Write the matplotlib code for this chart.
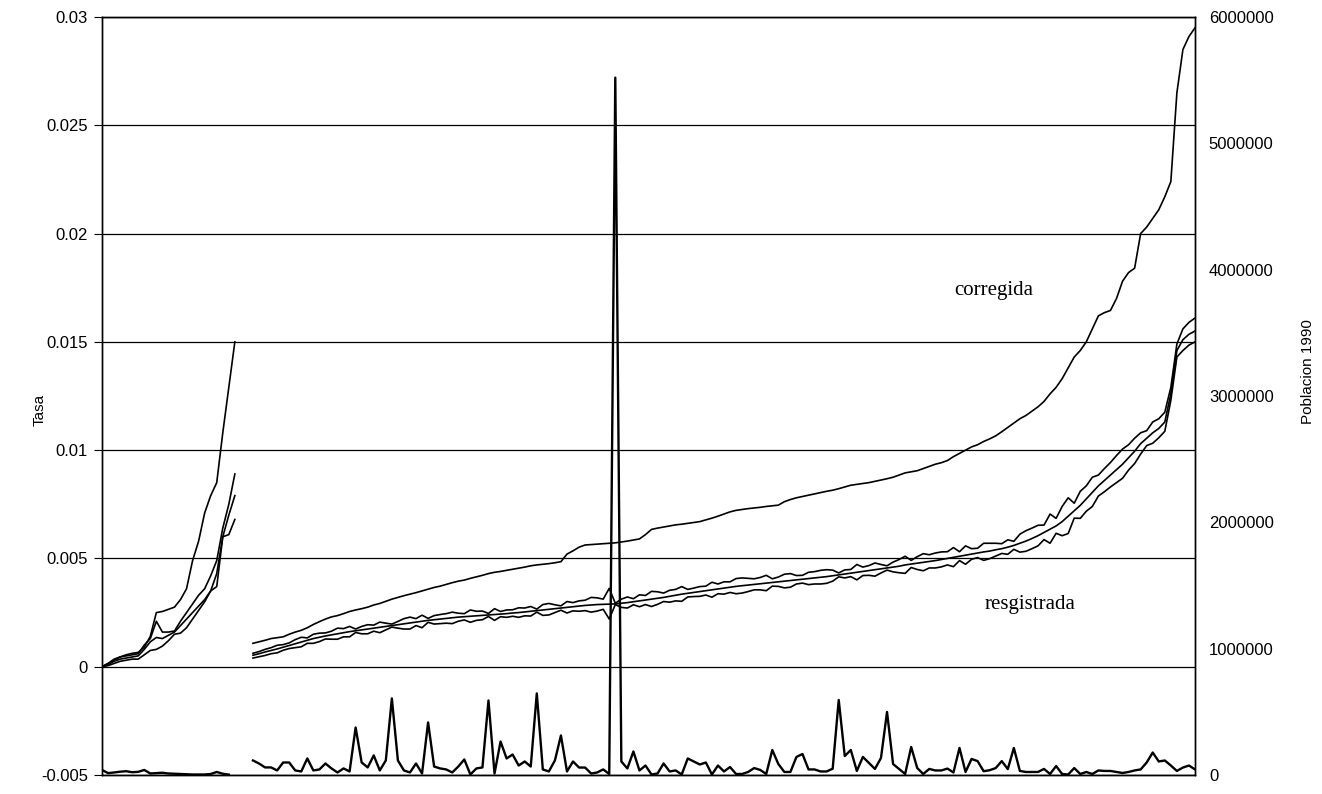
import numpy as np
import matplotlib.pyplot as plt

# Posiciones en el eje x: grupo 1 = 0..22, hueco, grupo 2 = 25..181
x1 = np.arange(0, 23)
x2 = np.arange(25, 182)
xp1 = np.arange(0, 22)  # poblacion grupo 1

# Tasas (por mil) - grupo 1
corregida_1 = [0.0, 0.15, 0.30, 0.45, 0.55, 0.62, 0.66, 0.90, 1.40, 2.50, 2.55, 2.65,
               2.75, 3.10, 3.60, 4.90, 5.80, 7.10, 7.90, 8.50, 10.80, 12.90, 15.00]
sup_1 = [0.0, 0.15, 0.35, 0.45, 0.50, 0.55, 0.60, 1.00, 1.30, 2.10, 1.60, 1.60,
         1.65, 2.10, 2.50, 2.90, 3.30, 3.60, 4.20, 4.90, 6.40, 7.50, 8.90]
registrada_1 = [0.0, 0.10, 0.25, 0.35, 0.40, 0.45, 0.50, 0.80, 1.15, 1.35, 1.30, 1.45,
                1.60, 1.90, 2.20, 2.50, 2.80, 3.10, 3.50, 4.30, 6.00, 7.00, 7.90]
inf_1 = [0.0, 0.05, 0.15, 0.25, 0.30, 0.35, 0.35, 0.55, 0.75, 0.80, 0.95, 1.20,
         1.50, 1.55, 1.80, 2.20, 2.60, 3.00, 3.50, 3.70, 6.00, 6.10, 6.80]
# Poblacion (miles) - grupo 1
pob_1 = [40, 15, 20, 26, 30, 22, 25, 40, 12, 15, 18, 12, 10, 8, 6, 4, 4, 4, 8, 24, 10, 3]

# Tasas (por mil) - grupo 2
corregida_2 = [
    1.08, 1.15, 1.22, 1.30, 1.34, 1.38, 1.50, 1.60, 1.68, 1.80,
    1.95, 2.08, 2.20, 2.30, 2.36, 2.45, 2.55, 2.62, 2.68, 2.75,
    2.85, 2.92, 3.02, 3.12, 3.20, 3.28, 3.35, 3.42, 3.50, 3.58,
    3.66, 3.72, 3.80, 3.88, 3.95, 4.00, 4.08, 4.15, 4.22, 4.30,
    4.36, 4.40, 4.45, 4.50, 4.55, 4.60, 4.66, 4.70, 4.73, 4.76,
    4.80, 4.85, 5.20, 5.35, 5.52, 5.62, 5.64, 5.66, 5.68, 5.70,
    5.72, 5.76, 5.80, 5.85, 5.90, 6.10, 6.34, 6.40, 6.45, 6.50,
    6.55, 6.58, 6.62, 6.66, 6.70, 6.78, 6.86, 6.95, 7.05, 7.15,
    7.22, 7.26, 7.30, 7.33, 7.36, 7.40, 7.43, 7.46, 7.62, 7.72,
    7.80, 7.86, 7.92, 7.98, 8.04, 8.10, 8.15, 8.22, 8.30, 8.38,
    8.42, 8.46, 8.50, 8.56, 8.62, 8.68, 8.75, 8.85, 8.95, 9.00,
    9.05, 9.15, 9.25, 9.35, 9.42, 9.52, 9.70, 9.85, 10.00, 10.15,
    10.25, 10.40, 10.52, 10.66, 10.85, 11.05, 11.25, 11.45, 11.60, 11.80,
    12.00, 12.25, 12.60, 12.90, 13.30, 13.80, 14.30, 14.60, 15.00, 15.60,
    16.20, 16.35, 16.45, 17.00, 17.80, 18.20, 18.40, 20.00, 20.30, 20.70,
    21.10, 21.70, 22.40, 26.50, 28.50, 29.10, 29.50]
registrada_2 = [
    0.53, 0.60, 0.68, 0.75, 0.82, 0.90, 0.98, 1.06, 1.14, 1.22,
    1.30, 1.36, 1.42, 1.47, 1.52, 1.57, 1.62, 1.66, 1.70, 1.74,
    1.78, 1.82, 1.86, 1.90, 1.94, 1.98, 2.02, 2.06, 2.10, 2.14,
    2.17, 2.20, 2.23, 2.26, 2.29, 2.31, 2.33, 2.35, 2.37, 2.39,
    2.41, 2.43, 2.45, 2.48, 2.50, 2.53, 2.56, 2.59, 2.62, 2.65,
    2.68, 2.71, 2.74, 2.77, 2.80, 2.83, 2.85, 2.87, 2.88, 2.89,
    2.90, 2.93, 2.96, 3.00, 3.04, 3.08, 3.12, 3.16, 3.20, 3.25,
    3.30, 3.35, 3.39, 3.43, 3.47, 3.51, 3.55, 3.59, 3.63, 3.67,
    3.71, 3.74, 3.77, 3.80, 3.83, 3.86, 3.89, 3.92, 3.95, 3.98,
    4.01, 4.04, 4.07, 4.10, 4.13, 4.16, 4.20, 4.24, 4.28, 4.32,
    4.36, 4.40, 4.44, 4.48, 4.52, 4.56, 4.60, 4.64, 4.70, 4.74,
    4.78, 4.82, 4.86, 4.90, 4.95, 5.00, 5.05, 5.10, 5.15, 5.20,
    5.25, 5.30, 5.34, 5.40, 5.45, 5.52, 5.60, 5.70, 5.80, 5.92,
    6.05, 6.20, 6.35, 6.50, 6.70, 6.95, 7.20, 7.45, 7.75, 8.05,
    8.35, 8.60, 8.85, 9.10, 9.35, 9.65, 9.95, 10.30, 10.55, 10.80,
    11.00, 11.30, 12.60, 14.60, 15.10, 15.35, 15.50]
sup_2 = [
    0.62, 0.70, 0.80, 0.88, 0.99, 1.02, 1.10, 1.25, 1.36, 1.33,
    1.50, 1.55, 1.56, 1.64, 1.78, 1.76, 1.86, 1.74, 1.86, 1.94,
    1.92, 2.06, 2.01, 1.97, 2.09, 2.22, 2.29, 2.22, 2.38, 2.23,
    2.36, 2.41, 2.45, 2.52, 2.47, 2.45, 2.62, 2.56, 2.57, 2.46,
    2.68, 2.55, 2.62, 2.63, 2.72, 2.71, 2.78, 2.66, 2.87, 2.92,
    2.86, 2.81, 3.01, 2.96, 3.04, 3.07, 3.20, 3.18, 3.12, 3.62,
    2.93, 3.12, 3.22, 3.14, 3.32, 3.29, 3.48, 3.46, 3.40, 3.53,
    3.57, 3.70, 3.57, 3.63, 3.70, 3.72, 3.90, 3.82, 3.92, 3.92,
    4.07, 4.10, 4.08, 4.06, 4.12, 4.22, 4.06, 4.14, 4.27, 4.30,
    4.21, 4.22, 4.36, 4.39, 4.45, 4.48, 4.46, 4.33, 4.47, 4.49,
    4.72, 4.60, 4.67, 4.79, 4.72, 4.66, 4.83, 4.95, 5.10, 4.91,
    5.08, 5.22, 5.17, 5.25, 5.30, 5.31, 5.50, 5.31, 5.58, 5.45,
    5.47, 5.70, 5.70, 5.70, 5.68, 5.86, 5.79, 6.12, 6.28, 6.40,
    6.53, 6.54, 7.05, 6.85, 7.40, 7.80, 7.55, 8.10, 8.35, 8.75,
    8.85, 9.15, 9.43, 9.75, 10.05, 10.25, 10.55, 10.80, 10.90, 11.30,
    11.45, 11.75, 12.90, 14.90, 15.60, 15.90, 16.10]
inf_2 = [
    0.40, 0.46, 0.52, 0.60, 0.64, 0.76, 0.84, 0.88, 0.92, 1.08,
    1.08, 1.16, 1.28, 1.27, 1.27, 1.38, 1.38, 1.58, 1.52, 1.52,
    1.64, 1.57, 1.70, 1.83, 1.78, 1.74, 1.74, 1.90, 1.80, 2.05,
    1.97, 1.99, 2.01, 1.99, 2.10, 2.16, 2.05, 2.14, 2.17, 2.32,
    2.14, 2.31, 2.28, 2.33, 2.28, 2.35, 2.34, 2.52, 2.37, 2.39,
    2.50, 2.61, 2.48, 2.58, 2.56, 2.59, 2.52, 2.57, 2.65, 2.20,
    2.87, 2.74, 2.71, 2.86, 2.77, 2.87, 2.78, 2.88, 3.01, 2.98,
    3.04, 3.02, 3.22, 3.24, 3.25, 3.31, 3.21, 3.37, 3.35, 3.43,
    3.37, 3.40, 3.47, 3.55, 3.55, 3.51, 3.72, 3.71, 3.64, 3.67,
    3.82, 3.86, 3.79, 3.82, 3.82, 3.85, 3.95, 4.15, 4.10, 4.16,
    4.01, 4.21, 4.22, 4.18, 4.33, 4.46, 4.38, 4.34, 4.31, 4.58,
    4.49, 4.43, 4.56, 4.56, 4.61, 4.70, 4.62, 4.90, 4.73, 4.96,
    5.04, 4.91, 4.99, 5.11, 5.23, 5.19, 5.42, 5.29, 5.33, 5.45,
    5.58, 5.87, 5.70, 6.16, 6.05, 6.15, 6.86, 6.85, 7.18, 7.40,
    7.88, 8.08, 8.30, 8.50, 8.70, 9.08, 9.38, 9.82, 10.21, 10.32,
    10.57, 10.87, 12.30, 14.30, 14.60, 14.85, 15.00]
# Poblacion 1990 (miles) - grupo 2
pob_2 = [
    115, 91, 60, 60, 36, 99, 99, 36, 28, 131,
    36, 44, 91, 52, 20, 52, 28, 376, 99, 60,
    155, 36, 115, 606, 115, 36, 20, 91, 12, 416,
    67, 52, 44, 20, 67, 123, 4, 52, 60, 590,
    12, 265, 131, 162, 75, 107, 67, 646, 44, 28,
    115, 313, 28, 107, 59, 59, 12, 20, 44, 8,
    5520, 107, 52, 186, 36, 75, 4, 12, 91, 28,
    36, 4, 131, 107, 83, 99, 4, 75, 28, 63,
    8, 8, 24, 55, 40, 8, 198, 87, 24, 24,
    143, 166, 44, 44, 28, 28, 50, 594, 150, 198,
    32, 143, 95, 48, 135, 499, 87, 48, 8, 222,
    55, 8, 48, 36, 36, 51, 20, 214, 24, 127,
    110, 30, 38, 55, 110, 47, 214, 32, 24, 24,
    24, 48, 8, 71, 8, 4, 55, 8, 24, 8,
    36, 32, 32, 24, 16, 24, 36, 44, 99, 178,
    107, 115, 75, 32, 59, 75, 44]

for serie in (corregida_2, registrada_2, sup_2, inf_2, pob_2):
    assert len(serie) == len(x2), len(serie)

tasa_ticks = [-0.005, 0, 0.005, 0.01, 0.015, 0.02, 0.025, 0.03]
tasa_labels = ['-0.005', '0', '0.005', '0.01', '0.015', '0.02', '0.025', '0.03']
pob_ticks = [0, 1000000, 2000000, 3000000, 4000000, 5000000, 6000000]
pob_labels = ['0', '1000000', '2000000', '3000000', '4000000', '5000000', '6000000']

W, H = 1322, 794
fig = plt.figure(figsize=(W / 100, H / 100), dpi=100)
ax = fig.add_axes([102 / W, 1 - 775 / H, (1195 - 102) / W, (775 - 17) / H])

lw = 1.2
for xs, ys in [(x1, corregida_1), (x1, sup_1), (x1, registrada_1), (x1, inf_1),
               (x2, corregida_2), (x2, sup_2), (x2, registrada_2), (x2, inf_2)]:
    ax.plot(xs, np.array(ys) / 1000, color='black', lw=lw, zorder=3)

ax.set_xlim(0, 181)
ax.set_ylim(-0.005, 0.03)
ax.set_yticks(tasa_ticks)
ax.set_yticklabels(tasa_labels)
ax.set_xticks([])
ax.grid(axis='y', color='black', lw=0.9)
ax.set_axisbelow(True)
ax.tick_params(axis='y', direction='out', length=6, labelsize=12, colors='black', pad=4)

ax2 = ax.twinx()
ax2.plot(xp1, np.array(pob_1) * 1000, color='black', lw=1.7)
ax2.plot(x2, np.array(pob_2) * 1000, color='black', lw=1.7)
ax2.set_ylim(0, 6000000)
ax2.set_yticks(pob_ticks)
ax2.set_yticklabels(pob_labels)
ax2.tick_params(axis='y', direction='out', length=0, labelsize=12, colors='black', pad=10)

for a in (ax, ax2):
    for s in a.spines.values():
        s.set_color('black')
        s.set_linewidth(1.0)

fig.text(40 / W, 1 - 410 / H, 'Tasa', rotation=90, ha='center', va='center',
         fontsize=11, family='Liberation Sans')
fig.text(1308 / W, 1 - 372 / H, 'Poblacion 1990', rotation=90, ha='center', va='center',
         fontsize=11, family='Liberation Sans')
fig.text(994 / W, 1 - 290 / H, 'corregida', ha='center', va='center',
         fontsize=15, family='Liberation Serif')
fig.text(1030 / W, 1 - 605 / H, 'resgistrada', ha='center', va='center',
         fontsize=15, family='Liberation Serif')

for t in ax.get_yticklabels() + ax2.get_yticklabels():
    t.set_family('Liberation Sans')

fig.savefig('out.png', dpi=100, facecolor='white')
